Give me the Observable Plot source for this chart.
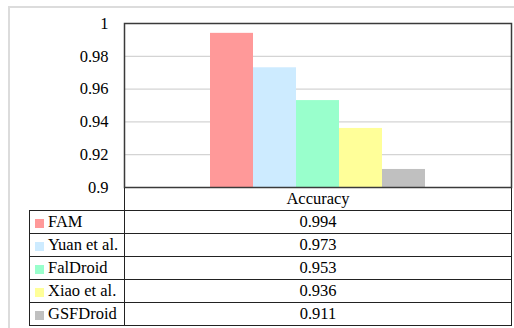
<!DOCTYPE html>
<html>
<head>
<meta charset="utf-8">
<script src="https://cdn.jsdelivr.net/npm/d3@7"></script>
<script src="https://cdn.jsdelivr.net/npm/@observablehq/plot@0.6"></script>
<style>
  html, body { margin: 0; padding: 0; background: #fff; overflow: hidden; }
  #wrap { position: relative; width: 514px; height: 328px; overflow: hidden;
          font-family: "Liberation Serif", "Times New Roman", Times, "DejaVu Serif", "Noto Serif", Tinos, serif; }
  #outer { position: absolute; left: 8px; top: 6px; width: 600px; height: 400px;
           border-left: 2px solid #dcdcdc; border-top: 2px solid #dcdcdc; }
  #chart { position: absolute; left: 0; top: 0; }
  #chart svg { overflow: visible; }
  #table { position: absolute; left: 29px; top: 188px; border-collapse: separate; border-spacing: 0;
           font-family: inherit; font-size: 16.5px; color: #000; }
  #table td { padding: 0; vertical-align: middle; box-sizing: border-box; white-space: nowrap; line-height: 1; }
  #table td.name { width: 95px; border-left: 1px solid #222; border-bottom: 1px solid #222; }
  #table td.val { width: 388px; border-left: 1px solid #222; border-right: 1px solid #222; border-bottom: 1px solid #222; text-align: center; }
  #table td.blank { width: 95px; border-bottom: 1px solid #222; }
  .sw { display: inline-block; width: 9px; height: 9px; margin: 0 4px 0 5px; vertical-align: -1px; }
</style>
</head>
<body>
<div id="wrap">
  <div id="outer"></div>
  <div id="chart"></div>
  <table id="table"></table>
</div>
<script>
// Accuracy of each approach
const models = ["FAM", "Yuan et al.", "FalDroid", "Xiao et al.", "GSFDroid"];
const accuracy = [0.994, 0.973, 0.953, 0.936, 0.911];
const colors = ["#ff9999", "#cdebff", "#99ffcc", "#ffff99", "#c0c0c0"];
const metric = "Accuracy";
const yTicks = [0.9, 0.92, 0.94, 0.96, 0.98, 1];
const axisMin = 0.9;
const axisMax = 1;

const rows = models.map((m, i) => ({model: m, value: accuracy[i], color: colors[i]}));
const font = '"Liberation Serif", "Times New Roman", Times, "DejaVu Serif", "Noto Serif", Tinos, serif';

const chart = Plot.plot({
  width: 514,
  height: 198,
  marginLeft: 124,
  marginRight: 3,
  marginTop: 23,
  marginBottom: 11,
  style: {fontFamily: font, fontSize: "16.5px", color: "#000", background: "transparent", overflow: "visible"},
  x: {type: "band", domain: models, paddingInner: 0, paddingOuter: 1.98, axis: null},
  y: {domain: [axisMin, axisMax]},
  marks: [
    Plot.ruleY(yTicks.filter(t => t > axisMin && t < axisMax), {stroke: "#d4d4d4", strokeWidth: 1.2}),
    Plot.barY(rows, {x: "model", y1: axisMin, y2: "value", fill: "color", inset: 0}),
    Plot.axisY({ticks: yTicks, tickSize: 0, tickPadding: 16, label: null,
                tickFormat: d => String(+d.toFixed(2)), fontSize: 16.5, fontFamily: font}),
    Plot.frame({stroke: "#3a3a3a", strokeWidth: 1.5})
  ]
});
document.getElementById("chart").appendChild(chart);

// data table under the chart, with the series key in its first column
const table = d3.select("#table");
const head = table.append("tr");
head.append("td").attr("class", "blank").style("height", "23px");
head.append("td").attr("class", "val").style("height", "23px").text(metric);
rows.forEach(r => {
  const tr = table.append("tr");
  const name = tr.append("td").attr("class", "name").style("height", "23px");
  name.append("span").attr("class", "sw").style("background", r.color);
  name.append("span").text(r.model);
  tr.append("td").attr("class", "val").style("height", "23px").text(r.value);
});
</script>
</body>
</html>
